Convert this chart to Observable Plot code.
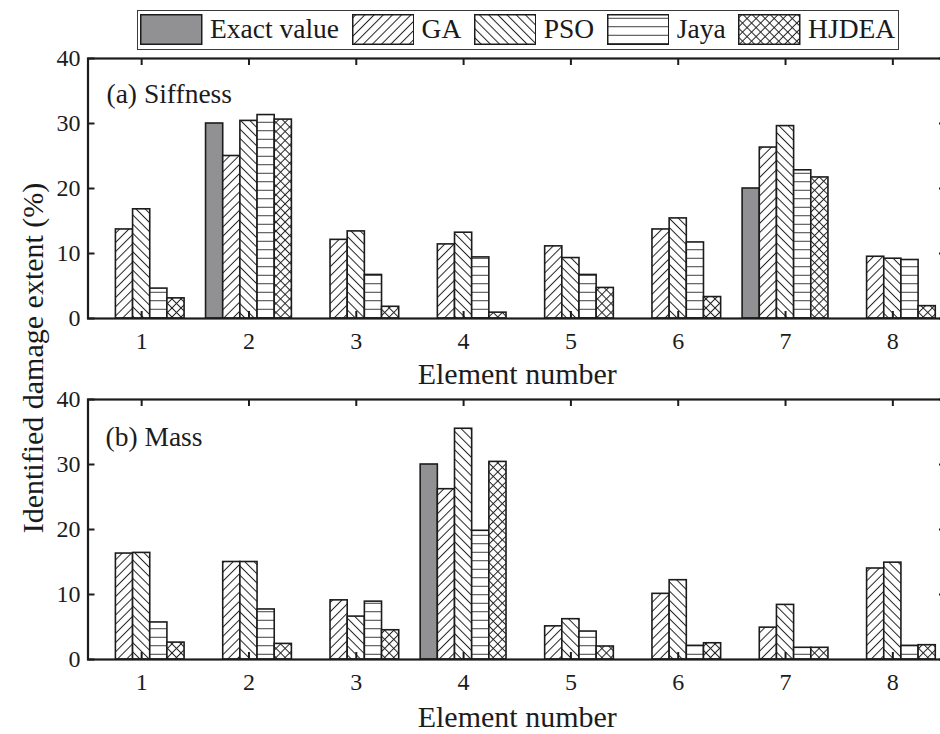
<!DOCTYPE html>
<html><head><meta charset="utf-8">
<script src="https://cdn.jsdelivr.net/npm/d3@7"></script>
<script src="https://cdn.jsdelivr.net/npm/@observablehq/plot@0.6"></script>
<style>
body{margin:0;background:#fff;}
#wrap{position:relative;width:940px;height:734px;overflow:hidden;background:#fff;font-family:"Liberation Serif","Times New Roman",serif;color:#1a1a1a;}
#legend{position:absolute;left:136.5px;top:10px;width:762px;height:39.5px;box-sizing:border-box;border:1.5px solid #3a3a3a;display:flex;align-items:center;padding-left:2.5px;font-size:27.5px;line-height:1;}
#legend .sw{width:62.5px;height:31px;margin-right:7.5px;flex:none;}
#legend .lt{margin-right:12.5px;white-space:nowrap;position:relative;top:-1px;}
#ylab{position:absolute;left:33px;top:358px;transform:translate(-50%,-50%) rotate(-90deg);font-size:30px;line-height:1;white-space:nowrap;}
.panel{position:absolute;left:0;}
</style></head><body>
<svg width="0" height="0" style="position:absolute"><defs>
<pattern id="pat-ga" patternUnits="userSpaceOnUse" width="6.5" height="6.5" patternTransform="rotate(45)"><rect width="6.5" height="6.5" fill="#fff"/><line x1="3.25" y1="-1" x2="3.25" y2="7.5" stroke="#222" stroke-width="1"/></pattern>
<pattern id="pat-pso" patternUnits="userSpaceOnUse" width="6.5" height="6.5" patternTransform="rotate(-45)"><rect width="6.5" height="6.5" fill="#fff"/><line x1="3.25" y1="-1" x2="3.25" y2="7.5" stroke="#222" stroke-width="1"/></pattern>
<pattern id="pat-jaya" patternUnits="userSpaceOnUse" width="8.5" height="8.5"><rect width="8.5" height="8.5" fill="#fff"/><line x1="-1" y1="4.25" x2="9.5" y2="4.25" stroke="#333" stroke-width="1"/></pattern>
<pattern id="pat-hjdea" patternUnits="userSpaceOnUse" width="6.4" height="6.4" patternTransform="rotate(45)"><rect width="6.4" height="6.4" fill="#fff"/><line x1="3.2" y1="-1" x2="3.2" y2="7.4" stroke="#222" stroke-width="1"/><line x1="-1" y1="3.2" x2="7.4" y2="3.2" stroke="#222" stroke-width="1"/></pattern>
</defs></svg>
<div id="wrap">
  <div id="legend"></div>
  <div id="ylab">Identified damage extent (%)</div>
  <div id="p1" class="panel" style="top:50px"></div>
  <div id="p2" class="panel" style="top:395px"></div>
</div>
<script>
// ---- data ----
const elements = [1, 2, 3, 4, 5, 6, 7, 8];
const methods = ["Exact value", "GA", "PSO", "Jaya", "HJDEA"];
const yTicks = [0, 10, 20, 30, 40];

// (a) Stiffness damage extent (%)
const stiffExact = [0, 30, 0, 0, 0, 0, 20, 0];
const stiffGA    = [13.7, 25.0, 12.1, 11.4, 11.1, 13.7, 26.3, 9.5];
const stiffPSO   = [16.8, 30.4, 13.4, 13.2, 9.3, 15.4, 29.6, 9.2];
const stiffJaya  = [4.6, 31.3, 6.7, 9.4, 6.7, 11.7, 22.8, 9.0];
const stiffHJDEA = [3.1, 30.6, 1.8, 0.9, 4.7, 3.3, 21.7, 1.9];

// (b) Mass damage extent (%)
const massExact = [0, 0, 0, 30, 0, 0, 0, 0];
const massGA    = [16.3, 15.0, 9.1, 26.2, 5.1, 10.1, 4.9, 14.0];
const massPSO   = [16.4, 15.0, 6.6, 35.5, 6.2, 12.2, 8.4, 14.9];
const massJaya  = [5.7, 7.7, 8.9, 19.8, 4.3, 2.1, 1.8, 2.1];
const massHJDEA = [2.6, 2.4, 4.5, 30.4, 2.0, 2.5, 1.8, 2.2];

// ---- styles ----
const fills = {"Exact value": "#919194", "GA": "url(#pat-ga)", "PSO": "url(#pat-pso)", "Jaya": "url(#pat-jaya)", "HJDEA": "url(#pat-hjdea)"};
const FONT = '"Liberation Serif","Times New Roman",serif';
const INK = "#1c1c1c";

// legend
const leg = document.getElementById("legend");
methods.forEach(m => {
  const sw = document.createElementNS("http://www.w3.org/2000/svg", "svg");
  sw.setAttribute("class", "sw");
  sw.setAttribute("width", 62.5); sw.setAttribute("height", 31);
  const r = document.createElementNS("http://www.w3.org/2000/svg", "rect");
  r.setAttribute("x", 0.75); r.setAttribute("y", 0.75);
  r.setAttribute("width", 61); r.setAttribute("height", 29.5);
  r.setAttribute("fill", fills[m]); r.setAttribute("stroke", INK); r.setAttribute("stroke-width", 1.5);
  sw.appendChild(r);
  leg.appendChild(sw);
  const t = document.createElement("span");
  t.className = "lt"; t.textContent = m;
  leg.appendChild(t);
});

const slot = 0.16, start = -0.4;

function panel(series, tag, top, height, frameTop, frameBottom, tagDx, tagDy, labDy) {
  const W = 950, mL = 87.5, mR = 4;
  const mT = frameTop - top, mB = top + height - frameBottom;
  const fH = frameBottom - frameTop, fW = W - mL - mR;
  const tick = 7;
  const barMarks = methods.map((m, i) => {
    const rows = elements.map((e, j) => ({element: e, value: series[i][j]})).filter(d => d.value > 0);
    return Plot.rectY(rows, {
      x1: d => d.element + start + i * slot,
      x2: d => d.element + start + (i + 1) * slot,
      y1: 0, y2: "value",
      fill: fills[m], stroke: INK, strokeWidth: 1.6
    });
  });
  return Plot.plot({
    width: W, height: height,
    marginLeft: mL, marginRight: mR, marginTop: mT, marginBottom: mB,
    style: {fontFamily: FONT, color: INK, background: "transparent", maxWidth: "none", overflow: "visible"},
    x: {domain: [0.5, 8.5]},
    y: {domain: [0, 40]},
    marks: [
      ...barMarks,
      Plot.ruleX(elements, {x: d => d, insetBottom: fH - tick, stroke: INK, strokeWidth: 2}),
      Plot.ruleX(elements, {x: d => d, insetTop: fH - tick, stroke: INK, strokeWidth: 2}),
      Plot.ruleY(yTicks, {y: d => d, insetRight: fW - tick, stroke: INK, strokeWidth: 2}),
      Plot.ruleY(yTicks, {y: d => d, insetLeft: fW - tick, stroke: INK, strokeWidth: 2}),
      Plot.frame({stroke: INK, strokeWidth: 2.2}),
      Plot.axisX({ticks: elements, tickSize: 0, tickPadding: 13, fontSize: 24, label: null, tickFormat: d => String(d)}),
      Plot.axisY({ticks: yTicks, tickSize: 0, tickPadding: 7.5, fontSize: 24, label: null}),
      Plot.text([tag], {frameAnchor: "top-left", lineAnchor: "middle", dx: tagDx, dy: tagDy, textAnchor: "start", fontSize: 27.5, fill: INK}),
      Plot.text(["Element number"], {frameAnchor: "bottom", lineAnchor: "middle", dy: labDy, fontSize: 30, fill: INK})
    ]
  });
}

document.getElementById("p1").appendChild(
  panel([stiffExact, stiffGA, stiffPSO, stiffJaya, stiffHJDEA], "(a) Siffness", 50, 345, 58, 318, 18.5, 36, 56));
document.getElementById("p2").appendChild(
  panel([massExact, massGA, massPSO, massJaya, massHJDEA], "(b) Mass", 395, 339, 399, 659, 17.5, 38, 58));
</script>
</body></html>
